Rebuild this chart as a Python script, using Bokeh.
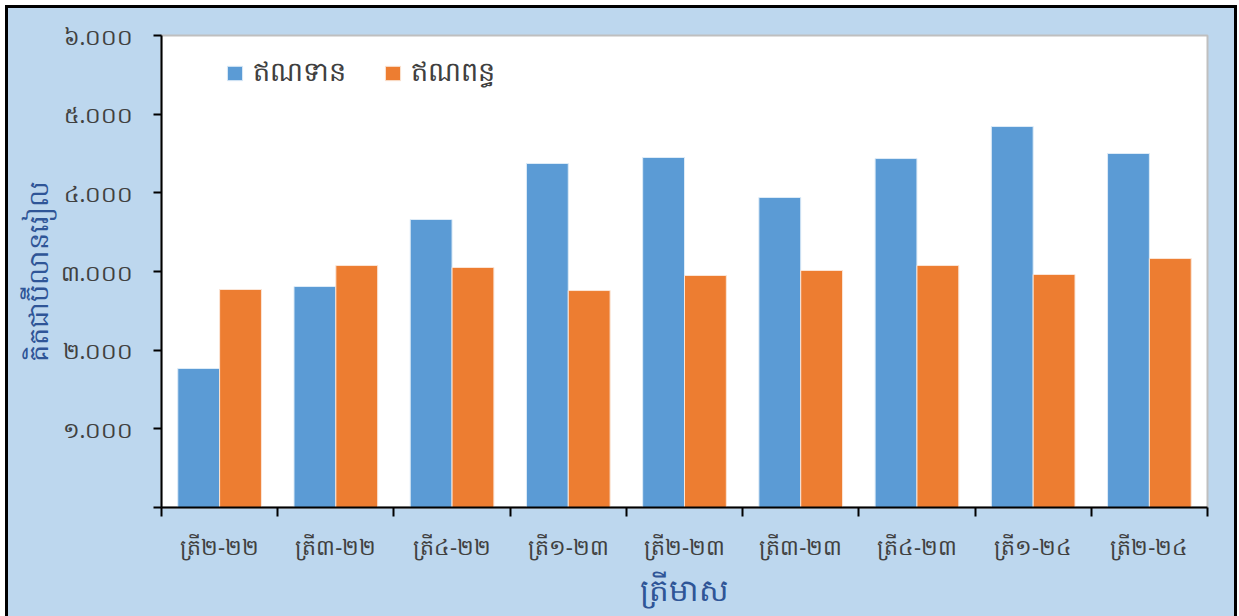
from bokeh.plotting import figure
from bokeh.models import FixedTicker, Range1d, ColumnDataSource, Legend, LegendItem
from bokeh.transform import dodge
from bokeh.embed import file_html
from bokeh.resources import INLINE

categories = ["ត្រី២-២២", "ត្រី៣-២២", "ត្រី៤-២២", "ត្រី១-២៣", "ត្រី២-២៣",
              "ត្រី៣-២៣", "ត្រី៤-២៣", "ត្រី១-២៤", "ត្រី២-២៤"]
credit = [1767, 2809, 3661, 4373, 4449, 3941, 4436, 4843, 4500]
debit = [2771, 3076, 3051, 2758, 2949, 3013, 3076, 2962, 3165]
series_names = ["ឥណទាន", "ឥណពន្ធ"]
y_tick_values = [0, 1000, 2000, 3000, 4000, 5000, 6000]
y_tick_labels = ["", "១.០០០", "២.០០០", "៣.០០០", "៤.០០០", "៥.០០០", "៦.០០០"]
y_title = "គិតជាប៊ីលានរៀល"
x_title = "ត្រីមាស"

FONT = "Noto Sans"
BLUE = "#5B9BD5"
ORANGE = "#ED7D31"
BG = "#BDD7EE"

n = len(categories)
centers = [i + 0.5 for i in range(n)]
src = ColumnDataSource(dict(x=centers, credit=credit, debit=debit))

p = figure(width=1232, height=611, output_backend="svg", toolbar_location=None,
           x_range=Range1d(0, n), y_range=Range1d(0, 6000),
           min_border_left=156, min_border_right=30, min_border_top=30, min_border_bottom=109)
p.background_fill_color = "white"
p.border_fill_alpha = 0
p.outline_line_color = "#BFBFBF"
p.outline_line_width = 2
p.grid.visible = False
p.styles = {"margin-left": "5px", "margin-top": "5px", "background-color": BG,
            "box-shadow": "inset 3px 3px 0 black, inset -3px 0 0 black"}

bw = 0.36
r1 = p.vbar(x=dodge("x", -bw / 2, range=p.x_range), top="credit", width=bw, source=src,
            fill_color=BLUE, line_color="#DDEBF7", line_width=1)
r2 = p.vbar(x=dodge("x", bw / 2, range=p.x_range), top="debit", width=bw, source=src,
            fill_color=ORANGE, line_color="#FBE5D6", line_width=1)

# x axis
xa = p.xaxis[0]
xa.ticker = FixedTicker(ticks=centers, minor_ticks=list(range(n + 1)))
xa.major_label_overrides = {c: lab for c, lab in zip(centers, categories)}
xa.major_tick_line_color = None
xa.minor_tick_out = 9
xa.minor_tick_in = 0
xa.minor_tick_line_color = "black"
xa.minor_tick_line_width = 2
xa.axis_line_color = "black"
xa.axis_line_width = 2
xa.major_label_text_font = FONT
xa.major_label_text_font_size = "22px"
xa.major_label_text_color = "#404040"
xa.major_label_standoff = 14
xa.axis_label = x_title
xa.axis_label_text_font = FONT
xa.axis_label_text_font_size = "31px"
xa.axis_label_text_font_style = "normal"
xa.axis_label_text_color = "#2F5597"
xa.axis_label_standoff = 4

# y axis
ya = p.yaxis[0]
ya.ticker = FixedTicker(ticks=y_tick_values)
ya.major_label_overrides = {v: lab for v, lab in zip(y_tick_values, y_tick_labels)}
ya.major_tick_out = 8
ya.major_tick_in = 0
ya.major_tick_line_width = 2
ya.minor_tick_line_color = None
ya.axis_line_color = "black"
ya.axis_line_width = 2
ya.major_label_text_font = FONT
ya.major_label_text_font_size = "22px"
ya.major_label_text_color = "#404040"
ya.major_label_standoff = 20
ya.axis_label = y_title
ya.axis_label_text_font = FONT
ya.axis_label_text_font_size = "27px"
ya.axis_label_text_font_style = "normal"
ya.axis_label_text_color = "#2F5597"
ya.axis_label_standoff = 2

legend = Legend(items=[LegendItem(label=series_names[0], renderers=[r1]),
                       LegendItem(label=series_names[1], renderers=[r2])],
                orientation="horizontal", location=(64, 413),
                background_fill_alpha=0, border_line_color=None,
                label_text_font=FONT, label_text_font_size="27px", label_text_color="#404040",
                glyph_width=19, glyph_height=18, spacing=37, padding=0, margin=0,
                label_standoff=9)
p.add_layout(legend, "center")

open("out.html", "w").write(file_html(p, INLINE))
